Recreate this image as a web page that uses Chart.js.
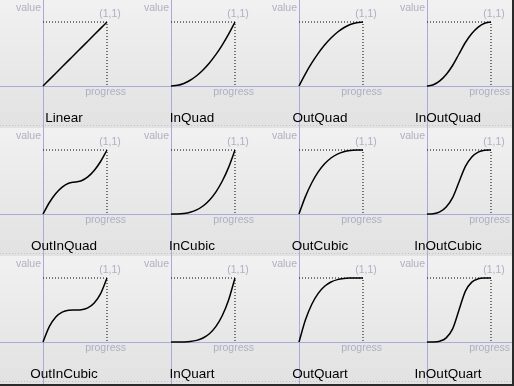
<!DOCTYPE html>
<html>
<head>
<meta charset="utf-8">
<script src="https://cdn.jsdelivr.net/npm/chart.js@4"></script>
<style>
    html, body { margin: 0; padding: 0; background: #e8e8e8; }
    #grid {
        width: 512px;
        height: 384px;
        display: grid;
        grid-template-columns: repeat(4, 128px);
        grid-template-rows: repeat(3, 128px);
        border-right: 2px solid #2a2a2a;
        border-bottom: 2px solid #2a2a2a;
    }
    .cell { background: linear-gradient(#f1f1f1, #e6e6e6 70%, #e2e2e2); }
    canvas { display: block; }
</style>
</head>
<body>
<div id="grid"></div>
<script>
// Easing curves, values at progress 0, 0.1 ... 1
const names = ["Linear", "InQuad", "OutQuad", "InOutQuad",
               "OutInQuad", "InCubic", "OutCubic", "InOutCubic",
               "OutInCubic", "InQuart", "OutQuart", "InOutQuart"];
const progress = [0, 0.1, 0.2, 0.3, 0.4, 0.5, 0.6, 0.7, 0.8, 0.9, 1];

const linear     = [0, 0.1, 0.2, 0.3, 0.4, 0.5, 0.6, 0.7, 0.8, 0.9, 1];
const inQuad     = [0, 0.01, 0.04, 0.09, 0.16, 0.25, 0.36, 0.49, 0.64, 0.81, 1];
const outQuad    = [0, 0.19, 0.36, 0.51, 0.64, 0.75, 0.84, 0.91, 0.96, 0.99, 1];
const inOutQuad  = [0, 0.02, 0.08, 0.18, 0.32, 0.5, 0.68, 0.82, 0.92, 0.98, 1];
const outInQuad  = [0, 0.18, 0.32, 0.42, 0.48, 0.5, 0.52, 0.58, 0.68, 0.82, 1];
const inCubic    = [0, 0.001, 0.008, 0.027, 0.064, 0.125, 0.216, 0.343, 0.512, 0.729, 1];
const outCubic   = [0, 0.271, 0.488, 0.657, 0.784, 0.875, 0.936, 0.973, 0.992, 0.999, 1];
const inOutCubic = [0, 0.004, 0.032, 0.108, 0.256, 0.5, 0.744, 0.892, 0.968, 0.996, 1];
const outInCubic = [0, 0.244, 0.392, 0.468, 0.496, 0.5, 0.504, 0.532, 0.608, 0.756, 1];
const inQuart    = [0, 0.0001, 0.0016, 0.0081, 0.0256, 0.0625, 0.1296, 0.2401, 0.4096, 0.6561, 1];
const outQuart   = [0, 0.3439, 0.5904, 0.7599, 0.8704, 0.9375, 0.9744, 0.9919, 0.9984, 0.9999, 1];
const inOutQuart = [0, 0.0008, 0.0128, 0.0648, 0.2048, 0.5, 0.7952, 0.9352, 0.9872, 0.9992, 1];

const curves = [linear, inQuad, outQuad, inOutQuad,
                outInQuad, inCubic, outCubic, inOutCubic,
                outInCubic, inQuart, outQuart, inOutQuart];

// guide corner (1,1)
const guideX = [0, 1, 1];
const guideY = [1, 1, 0];

const faint = "#afafc2";

const panelDecor = {
    id: "panelDecor",
    beforeDatasetsDraw(chart) {
        const c = chart.ctx;
        const x0 = Math.round(chart.scales.x.getPixelForValue(0)) + 0.5;
        const y0 = Math.round(chart.scales.y.getPixelForValue(0)) + 0.5;
        c.save();
        // faint dotted separator near the bottom
        c.strokeStyle = "#c4c4c4";
        c.setLineDash([1, 2]);
        c.beginPath();
        c.moveTo(0, chart.height - 2.5);
        c.lineTo(chart.width, chart.height - 2.5);
        c.stroke();
        c.setLineDash([]);
        // axes
        c.strokeStyle = "#aaaad8";
        c.lineWidth = 1;
        c.beginPath();
        c.moveTo(x0, 0);
        c.lineTo(x0, chart.height);
        c.moveTo(0, y0);
        c.lineTo(chart.width, y0);
        c.stroke();
        c.restore();
    },
    afterDraw(chart) {
        const c = chart.ctx;
        const x0 = chart.scales.x.getPixelForValue(0);
        const y0 = chart.scales.y.getPixelForValue(0);
        const x1 = chart.scales.x.getPixelForValue(1);
        const y1 = chart.scales.y.getPixelForValue(1);
        c.save();
        c.fillStyle = faint;
        c.font = "10.5px 'Liberation Sans', Arial, sans-serif";
        c.textBaseline = "middle";
        c.textAlign = "right";
        c.fillText("value", x0 - 2, 8);
        c.fillText("progress", x1 + 19, y0 + 6);
        c.textAlign = "center";
        c.fillText("(1,1)", x1 + 3, y1 - 8);
        c.fillStyle = "#000";
        c.font = "13.5px 'Liberation Sans', Arial, sans-serif";
        c.fillText(chart.options.plugins.panelDecor.name, chart.width / 2, 118);
        c.restore();
    }
};

const grid = document.getElementById("grid");

names.forEach((name, i) => {
    const cell = document.createElement("div");
    cell.className = "cell";
    const canvas = document.createElement("canvas");
    canvas.width = 128;
    canvas.height = 128;
    cell.appendChild(canvas);
    grid.appendChild(cell);

    new Chart(canvas.getContext("2d"), {
        type: "scatter",
        data: {
            datasets: [
                {
                    data: progress.map((p, k) => ({ x: p, y: curves[i][k] })),
                    showLine: true,
                    borderColor: "#000",
                    borderWidth: 1.5,
                    pointRadius: 0,
                    cubicInterpolationMode: "monotone",
                },
                {
                    data: guideX.map((gx, k) => ({ x: gx, y: guideY[k] })),
                    showLine: true,
                    borderColor: "#000",
                    borderWidth: 1,
                    borderDash: [1, 2],
                    pointRadius: 0,
                },
            ],
        },
        options: {
            responsive: false,
            animation: false,
            layout: { padding: 0 },
            scales: {
                x: { display: false, min: -43 / 64, max: 85 / 64 },
                y: { display: false, min: -42 / 64, max: 86 / 64 },
            },
            plugins: {
                legend: { display: false },
                tooltip: { enabled: false },
                panelDecor: { name: name },
            },
        },
        plugins: [panelDecor],
    });
});
</script>
</body>
</html>
